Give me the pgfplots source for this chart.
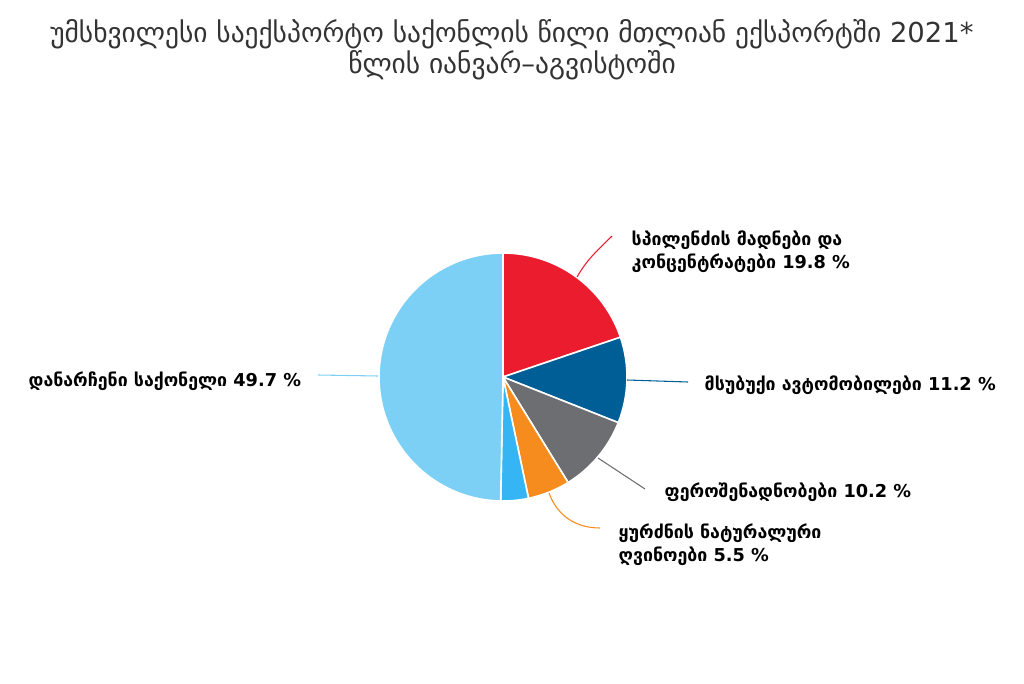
\documentclass[border=0pt]{standalone}
\usepackage{fontspec}
\setmainfont{DejaVu Sans}
\usepackage{pgfplots}
\usepackage{pgfplotstable}
\pgfplotsset{compat=1.18}
\definecolor{cRed}{HTML}{EC1C2F}
\definecolor{cBlue}{HTML}{005E97}
\definecolor{cGray}{HTML}{6C6E72}
\definecolor{cOrange}{HTML}{F78C1E}
\definecolor{cSky}{HTML}{35B5F4}
\definecolor{cLight}{HTML}{7DD0F5}
\definecolor{cTitle}{HTML}{333333}
\pgfplotstableread{
value col
19.8 cRed
11.2 cBlue
10.2 cGray
5.5 cOrange
3.6 cSky
49.7 cLight
}\piedata
\begin{document}
\begin{tikzpicture}
\begin{axis}[hide axis, scale only axis, width=768pt, height=512.25pt,
  xmin=0, xmax=1024, ymin=0, ymax=683, clip=false]
\addplot[draw=none] coordinates {(0,0) (1024,683)};
\pgfplotstablegetrowsof{\piedata}
\pgfmathtruncatemacro\lastrow{\pgfplotsretval-1}
\def\cum{0}
\pgfplotsforeachungrouped \i in {0,...,\lastrow}{%
  \pgfplotstablegetelem{\i}{value}\of\piedata \let\v\pgfplotsretval
  \pgfplotstablegetelem{\i}{col}\of\piedata \let\c\pgfplotsretval
  \pgfmathsetmacro\a{90-3.6*\cum}%
  \pgfmathsetmacro\b{90-3.6*(\cum+\v)}%
  \edef\temp{\noexpand\fill[\c, draw=white, line width=1.2pt] (axis cs:503,306) -- ++(\a:93pt) arc[start angle=\a, end angle=\b, radius=93pt] -- cycle;}%
  \temp
  \pgfmathsetmacro\cum{\cum+\v}%
}
% leader lines
\draw[cRed, line width=0.8pt] (axis cs:577,406) to[out=60,in=225] (axis cs:612,447);
\draw[cBlue, line width=0.8pt] (axis cs:627,303) -- (axis cs:688,301);
\draw[cGray, line width=0.8pt] (axis cs:598,225) -- (axis cs:645,194);
\draw[cOrange, line width=0.8pt] (axis cs:549,190) to[out=-70,in=180] (axis cs:600,155);
\draw[cLight, line width=0.8pt] (axis cs:378,307) -- (axis cs:318,308);
% labels
\tikzset{lbl/.style={anchor=west, align=left, font=\fontsize{13.3}{17.25}\selectfont\bfseries}}
\node[lbl] at (axis cs:627,431.5)
  {სპილენძის მადნები და\\კონცენტრატები 19.8 \%};
\node[lbl] at (axis cs:700,298)
  {მსუბუქი ავტომობილები 11.2 \%};
\node[lbl] at (axis cs:660,191)
  {ფეროშენადნობები 10.2 \%};
\node[lbl] at (axis cs:614,138.5)
  {ყურძნის ნატურალური\\ღვინოები 5.5 \%};
\node[lbl] at (axis cs:24,302)
  {დანარჩენი საქონელი 49.7 \%};
% title
\node[align=center, text=cTitle, font=\fontsize{20.6}{20.4}\selectfont] at (axis cs:512,633)
  {უმსხვილესი საექსპორტო საქონლის წილი მთლიან ექსპორტში 2021*\\წლის იანვარ–აგვისტოში};
\end{axis}
\end{tikzpicture}
\end{document}
